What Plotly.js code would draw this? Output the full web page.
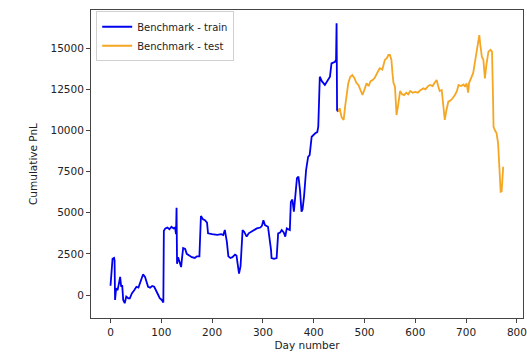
<!DOCTYPE html>
<html>
<head>
<meta charset="utf-8">
<script src="https://cdn.plot.ly/plotly-3.0.1.min.js"></script>
<style>html,body{margin:0;padding:0;background:#fff;}#chart{width:527px;height:353px;}</style>
</head>
<body>
<div id="chart"></div>
<script>
const trainDays = [0,2,4,7,8,9,11,14,17,19,21,23,25,28,31,35,38,42,47,51,55,58,61,64,68,71,74,78,82,86,90,94,97,101,104,105,108,112,116,120,124,127,129,130,131,133,136,139,141,143,147,150,155,160,166,170,175,178,182,186,190,192,200,210,218,222,225,229,232,236,240,245,248,251,253,256,258,260,263,266,268,272,280,288,295,298,301,304,310,313,316,317,322,327,330,334,337,341,344,347,353,355,358,361,364,367,370,373,376,378,381,385,389,392,396,400,403,407,409,412,416,422,427,432,435,442,444,445,446,448];
const trainPnL = [565,1500,2200,2250,2100,-300,400,300,800,1100,500,600,-300,-500,-100,-200,-200,100,300,500,450,700,1000,1250,1100,800,500,450,550,500,200,0,-200,-300,-450,3900,4050,4100,4000,4150,4050,4100,3700,5300,1900,2300,2000,1700,2300,2850,2800,2500,2400,2300,2250,2350,2350,4800,4600,4550,4400,3750,3700,3650,3700,3650,3950,3250,2350,2250,2300,2450,2400,1800,1300,1750,2600,3950,3850,3650,3550,3750,3900,4050,4100,4200,4550,4250,4150,3500,2750,2250,2200,2250,3750,3800,3950,3800,3550,4050,3950,5650,5800,5060,6400,7100,7200,6380,5060,5200,6000,7600,8400,8500,9620,9750,9830,9900,10230,13270,13000,12770,13000,13270,14080,14180,14300,16520,11250,11140];
const testDays = [448,451,455,459,462,465,468,472,476,480,484,488,492,496,500,504,508,512,516,520,525,530,535,537,540,544,547,550,553,555,557,560,563,566,570,574,578,582,586,590,595,600,605,610,616,620,625,629,634,638,642,645,648,652,655,658,661,665,668,672,678,682,685,690,695,698,701,704,706,708,711,714,717,720,723,726,728,731,734,737,740,744,748,751,753,754,757,760,763,766,768,770,772,773];
const testPnL = [11140,11350,10800,10640,11500,12300,12870,13270,13370,13200,12900,12770,12400,12160,12500,12870,12700,13000,13070,13200,13500,13780,13700,13880,14290,14400,14590,14590,14290,13500,12900,12660,10940,11500,12400,12200,12150,12300,12200,12400,12300,12350,12300,12450,12560,12500,12700,12770,12700,12900,13070,12700,12400,12460,11450,10640,11200,11750,11800,11900,12160,12400,12770,12700,12800,12660,12870,12300,12900,13070,13370,13500,14080,14690,15300,15800,15200,14490,14300,13170,14000,14790,14900,14790,12000,10230,10000,9830,9220,7800,6280,6300,7200,7800];
const xTicks = [0,100,200,300,400,500,600,700,800];
const yTicks = [0,2500,5000,7500,10000,12500,15000];
const seriesNames = ['Benchmark - train','Benchmark - test'];

const font = {family:'DejaVu Sans, sans-serif', size:10.5, color:'#222'};
const data = [
  {x:trainDays, y:trainPnL, type:'scatter', mode:'lines', name:seriesNames[0], line:{color:'#0000ee', width:1.8}},
  {x:testDays, y:testPnL, type:'scatter', mode:'lines', name:seriesNames[1], line:{color:'#f5a623', width:1.8}}
];
const axisCommon = {showgrid:false, zeroline:false, showline:true, mirror:true, linecolor:'#444', linewidth:1,
  ticks:'outside', ticklen:4, tickwidth:1, tickcolor:'#444', tickfont:font};
const layout = {
  width:527, height:353,
  margin:{l:91, r:4, t:10, b:35},
  paper_bgcolor:'#fff', plot_bgcolor:'#fff',
  font:font,
  showlegend:true,
  legend:{x:0.012, y:0.996, xanchor:'left', yanchor:'top', bgcolor:'rgba(255,255,255,0.8)', bordercolor:'#d0d0d0', borderwidth:1, font:{family:font.family, size:10, color:'#222'}, tracegroupgap:0},
  xaxis:Object.assign({}, axisCommon, {range:[-38.4, 812], tickvals:xTicks, ticktext:xTicks.map(String),
    title:{text:'Day number', font:font, standoff:5}}),
  yaxis:Object.assign({}, axisCommon, {range:[-1398, 17325], tickvals:yTicks, ticktext:yTicks.map(String),
    title:{text:'Cumulative PnL', font:font, standoff:10}})
};
Plotly.newPlot('chart', data, layout, {displayModeBar:false, staticPlot:true});
</script>
</body>
</html>
